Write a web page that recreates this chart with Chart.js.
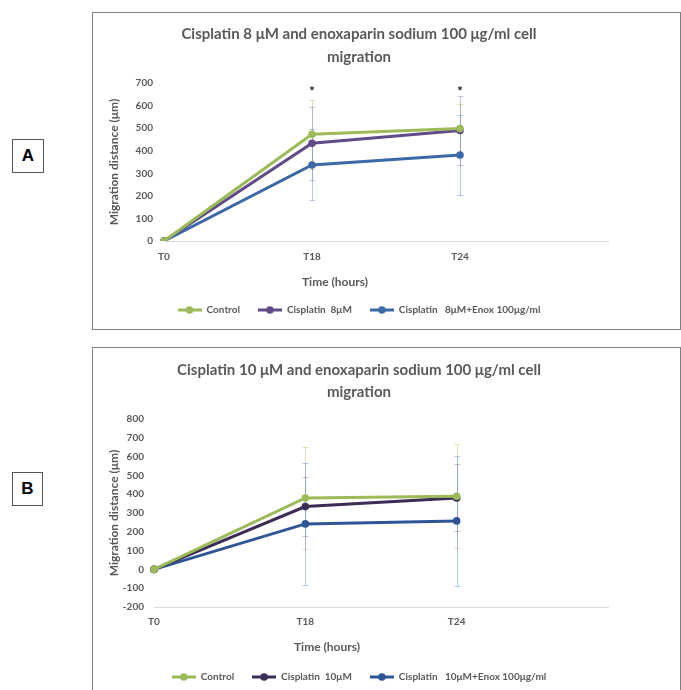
<!DOCTYPE html>
<html>
<head>
<meta charset="utf-8">
<script src="https://cdn.jsdelivr.net/npm/chart.js@4"></script>
<style>
  html, body { margin: 0; padding: 0; background: #fff; }
  body { position: relative; width: 681px; height: 690px; overflow: hidden; }
  .frame { position: absolute; border: 1px solid #7f7f7f; box-sizing: border-box; }
  .tag { position: absolute; border: 1px solid #555; box-sizing: border-box;
         font: bold 17px "Liberation Sans", Arial, sans-serif; color: #000;
         display: flex; align-items: center; justify-content: center; }
  canvas { position: absolute; }
</style>
</head>
<body>
<div class="tag" style="left:12px; top:139px; width:32px; height:34px;">A</div>
<div class="tag" style="left:12px; top:472px; width:31px; height:34px;">B</div>
<div class="frame" style="left:92px; top:12px; width:589px; height:318px;"></div>
<div class="frame" style="left:92px; top:347px; width:589px; height:360px;"></div>
<canvas id="chartA" width="586" height="315" style="left:93px; top:13px;"></canvas>
<canvas id="chartB" width="586" height="345" style="left:93px; top:348px;"></canvas>
<script>
// shared categories (last one is an empty slot, like the source chart)
const timeLabels = ["T0", "T18", "T24", ""];

// panel A: cisplatin 8 uM
const controlA = [0, 473, 498];
const cisA = [0, 433, 490];
const cisEnoxA = [0, 337, 381];
const controlErrA = [0, 152, 110];
const cisErrA = [0, 162, 154];
const cisEnoxErrA = [0, 157, 179];
const sigMarksA = ["", "*", "*"];
const yTicksA = [0, 100, 200, 300, 400, 500, 600, 700];

// panel B: cisplatin 10 uM
const controlB = [0, 380, 389];
const cisB = [0, 334, 380];
const cisEnoxB = [0, 242, 258];
const controlErrB = [0, 269, 276];
const cisErrB = [0, 158, 178];
const cisEnoxErrB = [0, 325, 347];
const yTicksB = [-200, -100, 0, 100, 200, 300, 400, 500, 600, 700, 800];

const textGrey = "#595959";
const font = "Lato";

// little "line with marker" icon for the legend
function legendIcon(color) {
  const c = document.createElement("canvas");
  c.width = 24; c.height = 10;
  const g = c.getContext("2d");
  g.strokeStyle = color; g.lineWidth = 3;
  g.beginPath(); g.moveTo(0, 5); g.lineTo(24, 5); g.stroke();
  g.fillStyle = color;
  g.beginPath(); g.arc(12, 5, 3.8, 0, Math.PI * 2); g.fill();
  return c;
}

const errorBars = {
  id: "errorBars",
  beforeDatasetsDraw(chart) {
    const { ctx, scales: { x, y } } = chart;
    chart.data.datasets.forEach(ds => {
      ctx.save();
      ctx.strokeStyle = ds.errorColor;
      ctx.lineWidth = 1;
      ds.data.forEach((v, i) => {
        const e = ds.errors[i];
        if (!e) return;
        const px = Math.round(x.getPixelForValue(i)) + 0.5;
        const top = Math.round(y.getPixelForValue(v + e)) + 0.5;
        const bot = Math.round(y.getPixelForValue(v - e)) + 0.5;
        ctx.beginPath();
        ctx.moveTo(px, top); ctx.lineTo(px, bot);
        ctx.moveTo(px - 3, top); ctx.lineTo(px + 3, top);
        ctx.moveTo(px - 3, bot); ctx.lineTo(px + 3, bot);
        ctx.stroke();
      });
      ctx.restore();
    });
  }
};

const extraText = {
  id: "extraText",
  afterDraw(chart, args, opts) {
    const { ctx, scales: { x, y } } = chart;
    ctx.save();
    ctx.textAlign = "center";
    ctx.textBaseline = "middle";
    ctx.fillStyle = textGrey;
    ctx.font = "bold 12px " + font;
    ctx.fillText(opts.xTitle, opts.xTitleX, opts.xTitleY);
    if (opts.marks) {
      ctx.fillStyle = "#222";
      ctx.font = "bold 14px " + font;
      opts.marks.forEach((m, i) => {
        if (m) ctx.fillText(m, x.getPixelForValue(i), y.getPixelForValue(opts.markValue) + 3);
      });
    }
    ctx.restore();
  }
};

function series(label, data, errors, color, errorColor) {
  return {
    label, data, errors, errorColor,
    borderColor: color, backgroundColor: color,
    pointBackgroundColor: color, pointBorderColor: color,
    borderWidth: 3, pointRadius: 3.8, pointBorderWidth: 0, tension: 0
  };
}

function buildChart(id, p) {
  const icons = p.datasets.map(d => legendIcon(d.borderColor));
  return new Chart(document.getElementById(id), {
    type: "line",
    data: { labels: timeLabels, datasets: p.datasets },
    options: {
      responsive: false,
      animation: false,
      layout: { padding: { left: 17, right: 71, top: 0, bottom: p.padBottom } },
      plugins: {
        title: {
          display: true, text: p.title, color: textGrey,
          font: { family: font, size: 15, weight: "bold", lineHeight: p.titleLine / 15 },
          padding: { top: p.titleTop, bottom: p.titleBottom }
        },
        legend: {
          position: "bottom",
          labels: {
            usePointStyle: true, pointStyleWidth: 24, padding: 18,
            color: textGrey, font: { family: font, size: 10, weight: "bold" },
            generateLabels(chart) {
              const items = Chart.defaults.plugins.legend.labels.generateLabels(chart);
              items.forEach((it, i) => { it.pointStyle = icons[i]; });
              return items;
            }
          }
        },
        tooltip: { enabled: false },
        extraText: p.extra
      },
      scales: {
        x: {
          grid: { display: false, drawTicks: false },
          border: { display: true, color: "#d9d9d9" },
          ticks: { padding: p.xTickPad, color: textGrey, font: { family: font, size: 10, weight: "bold" }, autoSkip: false, maxRotation: 0 },
          afterFit(s) { s.height = p.xHeight; }
        },
        y: {
          min: p.yTicks[0], max: p.yTicks[p.yTicks.length - 1],
          grid: { display: false, drawTicks: false },
          border: { display: false },
          ticks: { stepSize: p.yTicks[1] - p.yTicks[0], padding: p.yTickPad, color: textGrey, font: { family: font, size: 10, weight: "bold" } },
          title: {
            display: true, text: "Migration distance (μm)", color: textGrey,
            font: { family: font, size: 12, weight: "bold", lineHeight: 1 }, padding: { top: -1.5, bottom: 0 }
          },
          afterFit(s) { s.width = p.yWidth; }
        }
      }
    },
    plugins: [errorBars, extraText]
  });
}

buildChart("chartA", {
  title: ["Cisplatin 8 μM and enoxaparin sodium 100 μg/ml cell", "migration"],
  titleLine: 23, titleTop: 9.5, titleBottom: 14.5,
  padBottom: 3, xHeight: 46, xTickPad: 10, yWidth: 54, yTickPad: 11,
  yTicks: yTicksA,
  datasets: [
    series("Control", controlA, controlErrA, "#9bbb59", "rgba(190,200,120,0.55)"),
    series("Cisplatin  8μM", cisA, cisErrA, "#604a87", "rgba(150,120,190,0.45)"),
    series("Cisplatin   8μM+Enox 100μg/ml", cisEnoxA, cisEnoxErrA, "#3b69a6", "rgba(110,150,210,0.5)")
  ],
  extra: { xTitle: "Time (hours)", xTitleX: 242, xTitleY: 269, marks: sigMarksA, markValue: 675 }
});

buildChart("chartB", {
  title: ["Cisplatin 10 μM and enoxaparin sodium 100 μg/ml cell", "migration"],
  titleLine: 22, titleTop: 11, titleBottom: 16,
  padBottom: 1, xHeight: 47, xTickPad: 9, yWidth: 44, yTickPad: 10,
  yTicks: yTicksB,
  datasets: [
    series("Control", controlB, controlErrB, "#9bbb59", "rgba(215,205,140,0.6)"),
    series("Cisplatin  10μM", cisB, cisErrB, "#3c2c56", "rgba(130,110,170,0.45)"),
    series("Cisplatin   10μM+Enox 100μg/ml", cisEnoxB, cisEnoxErrB, "#2e5597", "rgba(110,150,210,0.5)")
  ],
  extra: { xTitle: "Time (hours)", xTitleX: 234, xTitleY: 299 }
});
</script>
</body>
</html>
